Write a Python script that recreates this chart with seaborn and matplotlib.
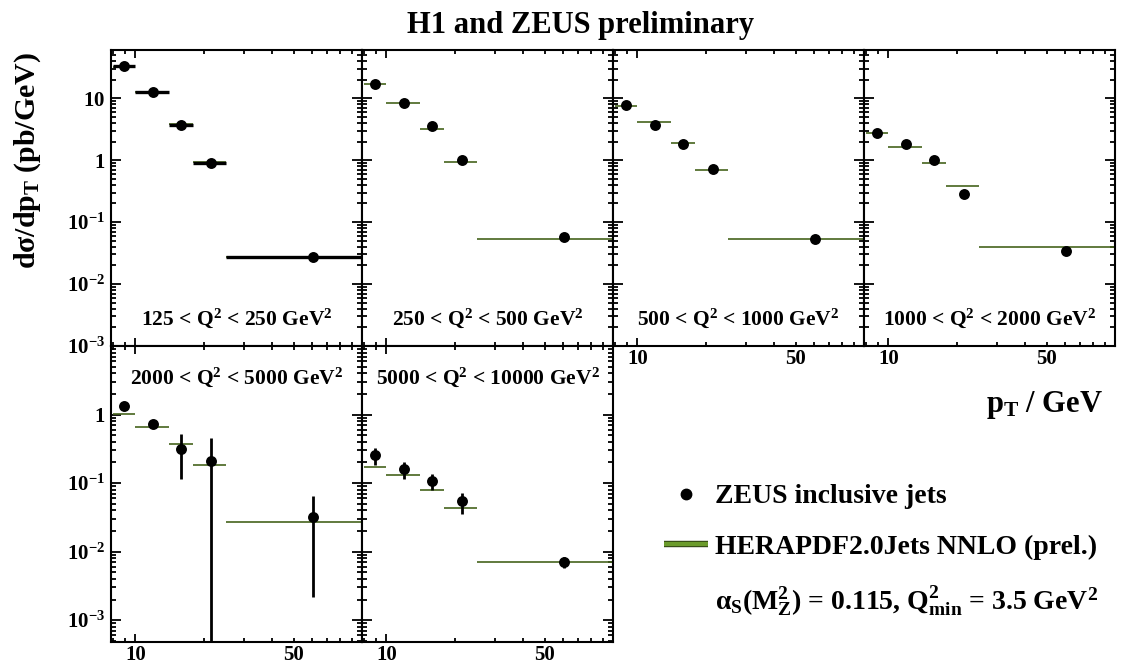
import numpy as np
import pandas as pd
import matplotlib
matplotlib.use("Agg")
import matplotlib.pyplot as plt
import matplotlib.patheffects as pe
import seaborn as sns
from matplotlib.ticker import FixedLocator, FixedFormatter, FuncFormatter, NullFormatter
from matplotlib.lines import Line2D

# ---------------- data ----------------
bin_edges = [8, 10, 14, 18, 25, 100]
pt_centers = [8.9, 12.0, 15.9, 21.5, 61.0]

q2_labels = [
    "125 < Q$^{2}$ < 250 GeV$^{2}$",
    "250 < Q$^{2}$ < 500 GeV$^{2}$",
    "500 < Q$^{2}$ < 1000 GeV$^{2}$",
    "1000 < Q$^{2}$ < 2000 GeV$^{2}$",
    "2000 < Q$^{2}$ < 5000 GeV$^{2}$",
    "5000 < Q$^{2}$ < 10000 GeV$^{2}$",
]

xsec_125_250 = [32.5, 12.8, 3.75, 0.9, 0.0276]
theo_125_250 = [32.0, 12.8, 3.8, 0.92, 0.0274]
xsec_250_500 = [16.8, 8.5, 3.57, 1.0, 0.058]
theo_250_500 = [16.8, 8.5, 3.16, 0.95, 0.0527]
xsec_500_1000 = [7.8, 3.7, 1.83, 0.71, 0.0533]
theo_500_1000 = [7.5, 4.19, 1.87, 0.695, 0.0533]
xsec_1000_2000 = [2.78, 1.83, 1.0, 0.284, 0.0345]
theo_1000_2000 = [2.75, 1.65, 0.89, 0.387, 0.040]
xsec_2000_5000 = [1.32, 0.73, 0.315, 0.207, 0.0325]
theo_2000_5000 = [1.03, 0.653, 0.372, 0.181, 0.0266]
low_2000_5000 = [1.32, 0.73, 0.115, 1e-5, 0.0022]
high_2000_5000 = [1.32, 0.73, 0.52, 0.456, 0.0638]
xsec_5000_10000 = [0.26, 0.162, 0.109, 0.055, 0.00714]
theo_5000_10000 = [0.17, 0.129, 0.078, 0.043, 0.00714]
low_5000_10000 = [0.185, 0.115, 0.080, 0.0356, 0.0057]
high_5000_10000 = [0.325, 0.20, 0.137, 0.071, 0.00826]

xsec_sets = [xsec_125_250, xsec_250_500, xsec_500_1000, xsec_1000_2000,
             xsec_2000_5000, xsec_5000_10000]
theo_sets = [theo_125_250, theo_250_500, theo_500_1000, theo_1000_2000,
             theo_2000_5000, theo_5000_10000]
low_sets = [None, None, None, None, low_2000_5000, low_5000_10000]
high_sets = [None, None, None, None, high_2000_5000, high_5000_10000]

legend_labels = ["ZEUS inclusive jets", "HERAPDF2.0Jets NNLO (prel.)",
                 "α$_{\\mathrm{S}}$(M$_{\\mathrm{Z}}^{2}$) = 0.115, Q$^{2}_{\\mathrm{min}}$ = 3.5 GeV$^{2}$"]

# ---------------- style ----------------
sns.set_theme(style="ticks")
plt.rcParams.update({
    "font.family": ["Liberation Serif", "DejaVu Serif"],
    "font.weight": "bold",
    "mathtext.fontset": "custom",
    "mathtext.rm": "Liberation Serif:bold",
    "mathtext.it": "Liberation Serif:italic:bold",
    "mathtext.bf": "Liberation Serif:bold",
    "mathtext.default": "rm",
    "axes.linewidth": 1.5,
    "axes.edgecolor": "black",
    "text.color": "black",
    "axes.labelcolor": "black",
    "xtick.color": "black",
    "ytick.color": "black",
    "xtick.labelcolor": "black",
    "ytick.labelcolor": "black",
})

GREEN_LINE = "#46631c"
GREEN_FILL = "#6b9b2b"

W, H = 1123, 667
fig = plt.figure(figsize=(W / 100, H / 100), dpi=100)
fig.patch.set_facecolor("white")

col_x = [111, 362, 613, 864]
row_top = [50, 346]
pw, ph = 251, 296
row_ylim = [(1e-3, 60), (4.8e-4, 10)]
positions = [(0, 0), (0, 1), (0, 2), (0, 3), (1, 0), (1, 1)]

edges = np.array(bin_edges, dtype=float)
pts = np.array(pt_centers, dtype=float)


def ylabel_fmt(v, pos):
    e = int(round(np.log10(v)))
    if e == 0:
        return r"$1^{\quad}$"
    if e == 1:
        return r"$10^{\quad}$"
    return r"$10^{%d}$" % e


def xminor_fmt(v, pos):
    return "50" if abs(v - 50) < 1e-6 else ""


for i, (r, c) in enumerate(positions):
    ax = fig.add_axes([col_x[c] / W, 1 - (row_top[r] + ph) / H, pw / W, ph / H])
    ax.set_facecolor("white")
    ax.grid(False)

    xs = np.array(xsec_sets[i])
    th = np.array(theo_sets[i])

    ax.hlines(th, edges[:-1], edges[1:], color=GREEN_LINE, lw=1.2, zorder=2)
    if i == 0:
        ax.errorbar(pts, xs, xerr=[pts - edges[:-1], edges[1:] - pts], fmt="none",
                    ecolor="black", elinewidth=2.4, capsize=0, zorder=3)
    if low_sets[i] is not None:
        lo = np.array(low_sets[i])
        hi = np.array(high_sets[i])
        ax.errorbar(pts, xs, yerr=[xs - lo, hi - xs], fmt="none",
                    ecolor="black", elinewidth=2.0, capsize=0, zorder=3)
    df = pd.DataFrame({"pt": pts, "xsec": xs})
    sns.scatterplot(data=df, x="pt", y="xsec", ax=ax, color="black", s=62,
                    edgecolor="black", linewidth=0, zorder=5, legend=False)

    ax.set_xscale("log")
    ax.set_yscale("log")
    ax.set_xlim(7.8, 100)
    ax.set_ylim(*row_ylim[r])
    ax.set_xlabel("")
    ax.set_ylabel("")

    # x ticks
    ax.xaxis.set_major_locator(FixedLocator([10, 100]))
    ax.xaxis.set_minor_locator(FixedLocator([8, 9, 20, 30, 40, 50, 60, 70, 80, 90]))
    show_x = (r == 1) or (c >= 2)
    if show_x:
        ax.xaxis.set_major_formatter(FixedFormatter(["10", ""]))
        ax.xaxis.set_minor_formatter(FuncFormatter(xminor_fmt))
    else:
        ax.xaxis.set_major_formatter(NullFormatter())
        ax.xaxis.set_minor_formatter(NullFormatter())

    # y ticks
    ylocs = [1e-3, 1e-2, 1e-1, 1, 10]
    ax.yaxis.set_major_locator(FixedLocator(ylocs))
    minors = [m * 10.0 ** e for e in range(-4, 2) for m in range(2, 10)]
    ax.yaxis.set_minor_locator(FixedLocator(minors))
    ax.yaxis.set_minor_formatter(NullFormatter())
    if c == 0:
        if r == 0:
            ax.yaxis.set_major_formatter(FuncFormatter(ylabel_fmt))
        else:
            ax.yaxis.set_major_formatter(
                FuncFormatter(lambda v, p: "" if v > 5 else ylabel_fmt(v, p)))
    else:
        ax.yaxis.set_major_formatter(NullFormatter())

    ax.tick_params(axis="both", which="both", direction="in", top=True, right=True,
                   colors="black", labelcolor="black", width=1.3, labelsize=15)
    ax.tick_params(axis="y", which="major", length=7, pad=4)
    ax.tick_params(axis="y", which="minor", length=3.5)
    ax.tick_params(axis="x", which="major", length=6, pad=2.5)
    ax.tick_params(axis="x", which="minor", length=3, pad=2.5)
    for lab in ax.get_xticklabels(which="both") + ax.get_yticklabels():
        lab.set_fontweight("bold")
    for s in ax.spines.values():
        s.set_visible(True)
        s.set_linewidth(1.5)
        s.set_color("black")

    ty = 0.095 if r == 0 else 0.895
    ax.text(0.5, ty, q2_labels[i], transform=ax.transAxes, ha="center", va="center",
            fontsize=15.5, fontweight="bold")

# titles and axis labels
fig.text(0.517, 1 - 33 / H, "H1 and ZEUS preliminary", ha="center", va="baseline",
         fontsize=22, fontweight="bold")
fig.text(28 / W, 1 - 52 / H, "dσ/dp$_{\\mathrm{T}}$ (pb/GeV)", rotation=90,
         ha="center", va="top", fontsize=21.5, fontweight="bold")
fig.text(1103 / W, 1 - 412 / H, "p$_{\\mathrm{T}}$ / GeV", ha="right", va="baseline",
         fontsize=22, fontweight="bold")

handles = [
    Line2D([], [], marker="o", ls="none", color="black", markersize=7.5),
    Line2D([], [], color=GREEN_FILL, lw=3.2, solid_capstyle="butt",
           path_effects=[pe.Stroke(linewidth=4.6, foreground="#2a3a10", capstyle="butt"),
                         pe.Normal()]),
    Line2D([], [], ls="none"),
]
leg = fig.legend(handles=handles, labels=legend_labels, loc="upper left",
                 bbox_to_anchor=(664 / W, 1 - 484 / H), frameon=False,
                 prop={"size": 20, "weight": "bold"},
                 handlelength=1.6, handletextpad=0.25,
                 labelspacing=0.9, borderpad=0, borderaxespad=0)
for t in leg.get_texts():
    t.set_color("black")

fig.savefig("out.png", dpi=100, facecolor="white")
